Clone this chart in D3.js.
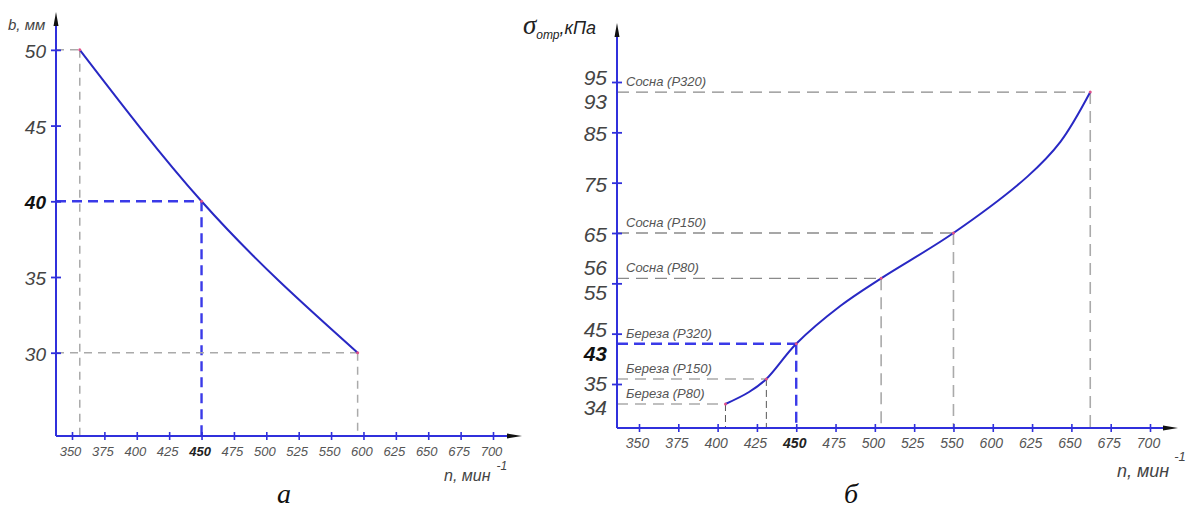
<!DOCTYPE html>
<html>
<head>
<meta charset="utf-8">
<script src="https://cdn.jsdelivr.net/npm/d3@7"></script>
<style>
  body { margin: 0; background: #fff; }
  text { font-family: "Liberation Sans", Arimo, "DejaVu Sans", sans-serif; font-style: italic; }
  .serif { font-family: "Liberation Serif", "DejaVu Serif", serif; }
</style>
</head>
<body>
<div id="chart"></div>
<script>
// shared n axis (rpm) tick labels
const nTicks = [350, 375, 400, 425, 450, 475, 500, 525, 550, 600, 625, 650, 675, 700];

// panel a: width b, mm
const widthTicks = [30, 35, 40, 45, 50];
const widthN = [356, 450, 591];
const widthB = [50, 40, 30];

// panel б: stress, kPa
const stressTicks = [35, 45, 55, 65, 75, 85, 95];
const stressN = [405, 420, 431, 450, 478, 504, 550, 622, 643, 662];
const stressV = [34, 34.6, 36, 43, 50.5, 56, 65, 76.2, 83.1, 93];
const woodN = [405, 431, 450, 504, 550, 662];
const woodV = [34, 36, 43, 56, 65, 93];
const woodNames = ["Береза (Р80)", "Береза (Р150)", "Береза (Р320)", "Сосна (Р80)", "Сосна (Р150)", "Сосна (Р320)"];
const stressMarks = [34, 43, 56, 93];

const highlightN = 450;

const axisBlue = "#3030dc", curveBlue = "#2828c4", dashBlue = "#3a3ae8";

const svg = d3.select("#chart").append("svg")
    .attr("width", 1192)
    .attr("height", 512);

// evenly spaced tick labels (575 is skipped on the drawing)
function makeX(x0, x1) {
    const pos = d3.scalePoint().domain(nTicks).range([x0, x1]);
    return d3.scaleLinear().domain(nTicks).range(nTicks.map(pos));
}

function frame(o) {
    svg.append("line")
        .attr("x1", o.ox).attr("y1", o.oy).attr("x2", o.ox).attr("y2", o.top + 12)
        .attr("stroke", axisBlue).attr("stroke-width", 2);
    svg.append("line")
        .attr("x1", o.ox).attr("y1", o.oy).attr("x2", o.right - 13).attr("y2", o.oy)
        .attr("stroke", axisBlue).attr("stroke-width", 2);
    svg.append("path")
        .attr("d", `M${o.ox},${o.top}L${o.ox - 2.5},${o.top + 14}L${o.ox + 2.5},${o.top + 14}Z`)
        .attr("fill", "#111");
    svg.append("path")
        .attr("d", `M${o.right},${o.oy}L${o.right - 15},${o.oy - 2.5}L${o.right - 15},${o.oy + 2.5}Z`)
        .attr("fill", "#111");
}

function xAxis(o, x, size, labelY) {
    const g = svg.append("g")
        .attr("transform", `translate(0,${o.oy})`)
        .call(d3.axisBottom(x).tickValues(nTicks).tickSize(4));
    g.select(".domain").remove();
    g.selectAll(".tick line")
        .attr("y1", -4).attr("y2", 4)
        .attr("stroke", axisBlue).attr("stroke-width", 1.6);
    g.selectAll(".tick text")
        .attr("y", labelY)
        .attr("x", -2)
        .attr("font-family", null)
        .attr("font-size", size)
        .attr("fill", d => d === highlightN ? "#222" : "#555")
        .attr("font-weight", d => d === highlightN ? "bold" : "normal");
}

function yAxis(o, y, ticks, size, bold) {
    const g = svg.append("g")
        .attr("transform", `translate(${o.ox},0)`)
        .call(d3.axisLeft(y).tickValues(ticks).tickSize(5));
    g.select(".domain").remove();
    g.selectAll(".tick line")
        .attr("x1", -5).attr("x2", 5)
        .attr("stroke", axisBlue).attr("stroke-width", 1.8);
    g.selectAll(".tick text")
        .attr("x", -10)
        .attr("dy", "0.4em")
        .attr("font-family", null)
        .attr("font-size", size)
        .attr("fill", d => d === bold ? "#111" : "#444")
        .attr("font-weight", d => d === bold ? "bold" : "normal");
    return g;
}

function guide(x1, y1, x2, y2, stroke, width, dash) {
    svg.append("line")
        .attr("x1", x1).attr("y1", y1).attr("x2", x2).attr("y2", y2)
        .attr("stroke", stroke).attr("stroke-width", width)
        .attr("stroke-dasharray", dash);
}

// ---------- panel a ----------
const A = { ox: 56, oy: 436, top: 12, right: 522 };
const xA = makeX(72, 493);
const yA = d3.scaleLinear().domain([24.5, 52.5]).range([A.oy, A.top]);

widthN.forEach((n, i) => {
    const px = xA(n), py = yA(widthB[i]);
    if (n === highlightN) {
        guide(A.ox, py, px, py, dashBlue, 2.4, "10,6");
        guide(px, py, px, A.oy, dashBlue, 2.4, "10,6");
    } else {
        guide(A.ox, py, px, py, "#aaa", 1.5, "8,6");
        guide(px, py, px, A.oy, "#aaa", 1.5, "8,6");
    }
});

frame(A);
xAxis(A, xA, 13, 11);
yAxis(A, yA, widthTicks, 19, 40);

const lineA = d3.line()
    .x(d => xA(d[0]))
    .y(d => yA(d[1]))
    .curve(d3.curveMonotoneX);

svg.append("path")
    .datum(widthN.map((n, i) => [n, widthB[i]]))
    .attr("d", lineA)
    .attr("fill", "none")
    .attr("stroke", curveBlue)
    .attr("stroke-width", 2);

svg.selectAll(".dotA")
    .data(widthN.map((n, i) => [n, widthB[i]]))
    .join("circle")
    .attr("cx", d => xA(d[0]))
    .attr("cy", d => yA(d[1]))
    .attr("r", 1.5)
    .attr("fill", "#e0508a");

svg.append("text")
    .attr("x", 8).attr("y", 30)
    .attr("font-size", 15).attr("fill", "#444")
    .text("b, мм");

const nLabelA = svg.append("text")
    .attr("x", 444).attr("y", 481)
    .attr("font-size", 16).attr("fill", "#444");
nLabelA.append("tspan").text("n, мин");
nLabelA.append("tspan").attr("dx", 6).attr("dy", -11).attr("font-size", 12).text("-1");

svg.append("text")
    .attr("class", "serif")
    .attr("x", 284).attr("y", 503)
    .attr("text-anchor", "middle")
    .attr("font-size", 28).attr("fill", "#111")
    .text("а");

// ---------- panel б ----------
const B = { ox: 617, oy: 428, top: 23, right: 1178 };
const xB = makeX(639, 1150);
// the drawing stretches the part of the axis below 35
const yB = d3.scaleLinear().domain([32.8, 35, 95]).range([B.oy, 384, 82]);

woodN.forEach((n, i) => {
    const px = xB(n), py = yB(woodV[i]);
    const birch = i < 3;
    if (n === highlightN) {
        guide(B.ox, py, px, py, dashBlue, 2.4, "11,6");
        guide(px, py, px, B.oy, dashBlue, 2.4, "11,6");
    } else if (birch) {
        guide(B.ox, py, px, py, "#aaa", 1.5, "11,7");
        guide(px, py, px, B.oy, "#444", 0.9, "7,4");
    } else {
        guide(B.ox, py, px, py, "#8a8a8a", 1.3, "12,7");
        guide(px, py, px, B.oy, "#aaa", 1.6, "12,7");
    }
    svg.append("text")
        .attr("x", B.ox + 9).attr("y", py - 6)
        .attr("font-size", 13).attr("fill", "#555")
        .text(woodNames[i]);
});

frame(B);
xAxis(B, xB, 14, 10);
const yAxB = yAxis(B, yB, stressTicks, 21, null);

// labels of the marked values; they and their neighbour tick labels move apart
const sep = 25;
stressMarks.forEach(v => {
    let py = yB(v);
    const near = stressTicks.reduce((a, t) => Math.abs(yB(t) - py) < Math.abs(yB(a) - py) ? t : a);
    const gap = py - yB(near);
    if (Math.abs(gap) < sep) {
        const dir = gap >= 0 ? 1 : -1;
        const deficit = sep - Math.abs(gap);
        py += dir * deficit * 0.6;
        yAxB.selectAll(".tick")
            .filter(t => t === near)
            .select("text")
            .attr("y", -dir * deficit * 0.4);
    }
    svg.append("text")
        .attr("x", B.ox - 10).attr("y", py)
        .attr("dy", "0.4em")
        .attr("text-anchor", "end")
        .attr("font-size", 21)
        .attr("fill", v === 43 ? "#111" : "#444")
        .attr("font-weight", v === 43 ? "bold" : "normal")
        .text(v);
});

const lineB = d3.line()
    .x(d => xB(d[0]))
    .y(d => yB(d[1]))
    .curve(d3.curveCatmullRom.alpha(0.5));

svg.append("path")
    .datum(stressN.map((n, i) => [n, stressV[i]]))
    .attr("d", lineB)
    .attr("fill", "none")
    .attr("stroke", curveBlue)
    .attr("stroke-width", 2);

svg.selectAll(".dotB")
    .data(woodN.map((n, i) => [n, woodV[i]]))
    .join("circle")
    .attr("cx", d => xB(d[0]))
    .attr("cy", d => yB(d[1]))
    .attr("r", 1.5)
    .attr("fill", "#e0508a");

const sTitle = svg.append("text")
    .attr("x", 523).attr("y", 34)
    .attr("fill", "#222");
sTitle.append("tspan").attr("class", "serif").attr("font-size", 27).text("σ");
sTitle.append("tspan").attr("font-size", 12).attr("dy", 5).text("отр");
sTitle.append("tspan").attr("font-size", 18).attr("dy", -5).text(",кПа");

const nLabelB = svg.append("text")
    .attr("x", 1117).attr("y", 477)
    .attr("font-size", 18).attr("fill", "#444");
nLabelB.append("tspan").text("n, мин");
nLabelB.append("tspan").attr("dx", 5).attr("dy", -16).attr("font-size", 13).text("-1");

svg.append("text")
    .attr("class", "serif")
    .attr("x", 851).attr("y", 503)
    .attr("text-anchor", "middle")
    .attr("font-size", 28).attr("fill", "#111")
    .text("б");
</script>
</body>
</html>
